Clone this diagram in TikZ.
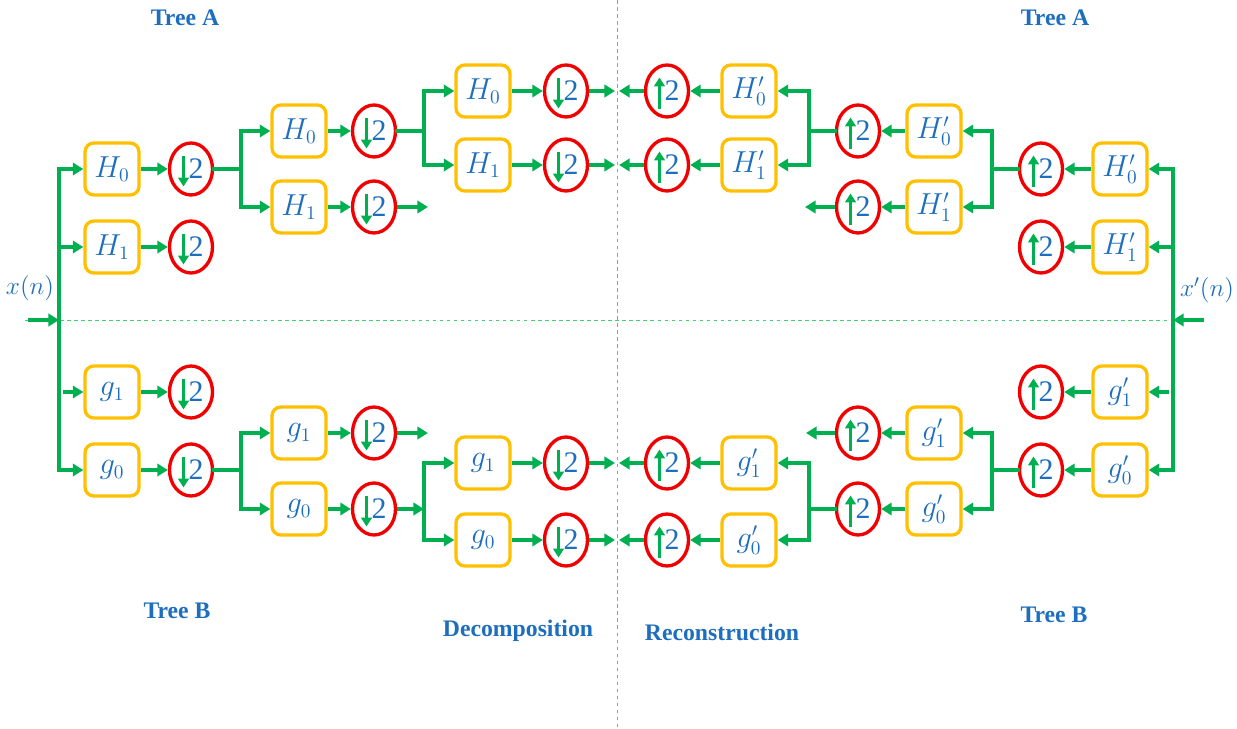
\documentclass[tikz,border=0pt]{standalone}
\usepackage{fontspec}
\setmainfont{Liberation Serif}
\usetikzlibrary{arrows.meta,shapes.geometric,calc}
\definecolor{wiregreen}{RGB}{0,176,80}
\definecolor{guidegreen}{RGB}{70,205,120}
\definecolor{ringred}{RGB}{240,0,0}
\definecolor{boxorange}{RGB}{255,192,0}
\definecolor{txtblue}{RGB}{30,110,190}

% sampler with a down arrow (decimation)
\newcommand\downsamp[3]{%
  \node[samp] (#1) at (#2,#3) {\makebox[0.5cm][r]{2}};
  \draw[tick] ([xshift=-0.15cm,yshift=0.26cm]#1.center) -- ([xshift=-0.15cm,yshift=-0.35cm]#1.center);}
% sampler with an up arrow (interpolation)
\newcommand\upsamp[3]{%
  \node[samp] (#1) at (#2,#3) {\makebox[0.5cm][r]{2}};
  \draw[tick] ([xshift=-0.15cm,yshift=-0.37cm]#1.center) -- ([xshift=-0.15cm,yshift=0.27cm]#1.center);}

\begin{document}
\begin{tikzpicture}[x=0.02cm,y=-0.02cm,
  filt/.style={draw=boxorange, line width=1.9pt, rounded corners=5pt,
    minimum width=1.08cm, minimum height=1.04cm, fill=white, text=txtblue,
    font=\fontsize{16}{18}\selectfont, inner sep=0pt},
  samp/.style={ellipse, draw=ringred, line width=1.9pt, minimum width=0.86cm,
    minimum height=1.04cm, inner sep=0pt, text=txtblue,
    font=\fontsize{17}{19}\selectfont},
  wire/.style={draw=wiregreen, line width=2pt, line cap=rect},
  flow/.style={draw=wiregreen, line width=2pt, -{Triangle[length=6pt,width=7pt]}},
  tick/.style={draw=wiregreen, line width=1.9pt, -{Triangle[length=5pt,width=6pt]}},
  guide/.style={draw=guidegreen, line width=0.45pt, dash pattern=on 2pt off 2pt},
  title/.style={text=txtblue, font=\bfseries\fontsize{13.5}{15}\selectfont},
  sig/.style={text=txtblue, font=\fontsize{14.5}{16}\selectfont},
]
\useasboundingbox (0,0) rectangle (1237,729);

% dashed guide lines
\coordinate (gh1) at (25,320);
\coordinate (gh2) at (1170,320);
\coordinate (gv1) at (617,0);
\coordinate (gv2) at (617,729);
\draw[guide] (gh1) -- (gh2);
\draw[guide] (gv1) -- (gv2);

% titles
\node[title] (tAl) at (185,18) {Tree A};
\node[title] (tAr) at (1055,18) {Tree A};
\node[title] (tBl) at (177,611) {Tree B};
\node[title] (tBr) at (1054,615) {Tree B};
\node[title] (dec) at (518,631) {Decomposition};
\node[title] (rec) at (722,632) {Reconstruction};

% input / output signals
\node[sig] (xin) at (30,288) {$x(n)$};
\node[sig] (xout) at (1207,290) {$x'(n)$};
\coordinate (inL) at (28,320);
\coordinate (busL) at (59,320);
\coordinate (inR) at (1204,320);
\coordinate (busR) at (1173,320);

% ---------- decomposition, tree A ----------
\node[filt] (a1h0) at (112,169) {$H_0$};
\node[filt] (a1h1) at (112,247) {$H_1$};
\downsamp{a1d0}{191}{169}
\downsamp{a1d1}{191}{247}
\node[filt] (a2h0) at (299,131) {$H_0$};
\node[filt] (a2h1) at (299,207) {$H_1$};
\downsamp{a2d0}{374}{131}
\downsamp{a2d1}{374}{207}
\node[filt] (a3h0) at (483,91) {$H_0$};
\node[filt] (a3h1) at (483,165) {$H_1$};
\downsamp{a3d0}{566}{91}
\downsamp{a3d1}{566}{165}

% ---------- decomposition, tree B ----------
\node[filt] (b1g1) at (112,392) {$g_1$};
\node[filt] (b1g0) at (112,470) {$g_0$};
\downsamp{b1d1}{191}{392}
\downsamp{b1d0}{191}{470}
\node[filt] (b2g1) at (299,433) {$g_1$};
\node[filt] (b2g0) at (299,509) {$g_0$};
\downsamp{b2d1}{374}{433}
\downsamp{b2d0}{374}{509}
\node[filt] (b3g1) at (483,463) {$g_1$};
\node[filt] (b3g0) at (483,540) {$g_0$};
\downsamp{b3d1}{566}{463}
\downsamp{b3d0}{566}{540}

% ---------- reconstruction, tree A ----------
\upsamp{p3u0}{667}{91}
\upsamp{p3u1}{667}{165}
\node[filt] (p3h0) at (749,91) {$H'_0$};
\node[filt] (p3h1) at (749,165) {$H'_1$};
\upsamp{p2u0}{858}{131}
\upsamp{p2u1}{858}{207}
\node[filt] (p2h0) at (934,131) {$H'_0$};
\node[filt] (p2h1) at (934,207) {$H'_1$};
\upsamp{p1u0}{1041}{169}
\upsamp{p1u1}{1041}{247}
\node[filt] (p1h0) at (1120,169) {$H'_0$};
\node[filt] (p1h1) at (1120,247) {$H'_1$};

% ---------- reconstruction, tree B ----------
\upsamp{q3u1}{667}{463}
\upsamp{q3u0}{667}{540}
\node[filt] (q3g1) at (749,463) {$g'_1$};
\node[filt] (q3g0) at (749,540) {$g'_0$};
\upsamp{q2u1}{858}{433}
\upsamp{q2u0}{858}{509}
\node[filt] (q2g1) at (934,433) {$g'_1$};
\node[filt] (q2g0) at (934,509) {$g'_0$};
\upsamp{q1u1}{1041}{392}
\upsamp{q1u0}{1041}{470}
\node[filt] (q1g1) at (1120,392) {$g'_1$};
\node[filt] (q1g0) at (1120,470) {$g'_0$};

% bus junctions
\coordinate (aBus2) at (241,169);
\coordinate (aBus3) at (424,131);
\coordinate (bBus2) at (241,470);
\coordinate (bBus3) at (424,509);
\coordinate (pBus3) at (809,131);
\coordinate (pBus2) at (992,169);
\coordinate (qBus3) at (809,509);
\coordinate (qBus2) at (992,470);

% open branch ends
\coordinate (a2end) at (428,207);
\coordinate (b2end) at (428,433);
\coordinate (p2end) at (805,207);
\coordinate (q2end) at (806,433);

% ends at the centre line
\coordinate (la0) at (615,91);
\coordinate (la1) at (615,165);
\coordinate (lb1) at (615,463);
\coordinate (lb0) at (615,540);
\coordinate (ra0) at (619,91);
\coordinate (ra1) at (619,165);
\coordinate (rb1) at (619,463);
\coordinate (rb0) at (619,540);

% ---------- left wiring ----------
\draw[flow] (inL) -- (busL);
\draw[wire] (a1h0.west -| busL) -- (b1g0.west -| busL);
\draw[flow] (a1h0.west -| busL) -- (a1h0.west);
\draw[flow] (a1h1.west -| busL) -- (a1h1.west);
\draw[flow] ($(b1g1.west -| busL)+(4,0)$) -- (b1g1.west);
\draw[flow] (b1g0.west -| busL) -- (b1g0.west);
\foreach \f/\s in {a1h0/a1d0,a1h1/a1d1,a2h0/a2d0,a2h1/a2d1,a3h0/a3d0,a3h1/a3d1,
                  b1g1/b1d1,b1g0/b1d0,b2g1/b2d1,b2g0/b2d0,b3g1/b3d1,b3g0/b3d0}
  \draw[flow] (\f) -- (\s);

% tree A, levels 2 and 3
\draw[wire] (a1d0.east) -- (aBus2);
\draw[wire] (a2h0.west -| aBus2) -- (a2h1.west -| aBus2);
\draw[flow] (a2h0.west -| aBus2) -- (a2h0.west);
\draw[flow] (a2h1.west -| aBus2) -- (a2h1.west);
\draw[flow] (a2d1.east) -- (a2end);
\draw[wire] (a2d0.east) -- (aBus3);
\draw[wire] (a3h0.west -| aBus3) -- (a3h1.west -| aBus3);
\draw[flow] (a3h0.west -| aBus3) -- (a3h0.west);
\draw[flow] (a3h1.west -| aBus3) -- (a3h1.west);
\draw[flow] (a3d0.east) -- (la0);
\draw[flow] (a3d1.east) -- (la1);

% tree B, levels 2 and 3
\draw[wire] (b1d0.east) -- (bBus2);
\draw[wire] (b2g1.west -| bBus2) -- (b2g0.west -| bBus2);
\draw[flow] (b2g1.west -| bBus2) -- (b2g1.west);
\draw[flow] (b2g0.west -| bBus2) -- (b2g0.west);
\draw[flow] (b2d1.east) -- (b2end);
\draw[flow] (b2d0.east) -- (bBus3);
\draw[wire] (b3g1.west -| bBus3) -- (b3g0.west -| bBus3);
\draw[flow] (b3g1.west -| bBus3) -- (b3g1.west);
\draw[flow] (b3g0.west -| bBus3) -- (b3g0.west);
\draw[flow] (b3d1.east) -- (lb1);
\draw[flow] (b3d0.east) -- (lb0);

% ---------- right wiring ----------
\draw[flow] (inR) -- (busR);
\draw[wire] (p1h0.east -| busR) -- (q1g0.east -| busR);
\draw[flow] (p1h0.east -| busR) -- (p1h0.east);
\draw[flow] (p1h1.east -| busR) -- (p1h1.east);
\draw[flow] ($(q1g1.east -| busR)+(-4,0)$) -- (q1g1.east);
\draw[flow] (q1g0.east -| busR) -- (q1g0.east);
\foreach \f/\s in {p1h0/p1u0,p1h1/p1u1,p2h0/p2u0,p2h1/p2u1,p3h0/p3u0,p3h1/p3u1,
                  q1g1/q1u1,q1g0/q1u0,q2g1/q2u1,q2g0/q2u0,q3g1/q3u1,q3g0/q3u0}
  \draw[flow] (\f) -- (\s);

% tree A, levels 2 and 3
\draw[wire] (p1u0.west) -- (pBus2);
\draw[wire] (p2h0.east -| pBus2) -- (p2h1.east -| pBus2);
\draw[flow] (p2h0.east -| pBus2) -- (p2h0.east);
\draw[flow] (p2h1.east -| pBus2) -- (p2h1.east);
\draw[flow] (p2u1.west) -- (p2end);
\draw[wire] (p2u0.west) -- (pBus3);
\draw[wire] (p3h0.east -| pBus3) -- (p3h1.east -| pBus3);
\draw[flow] (p3h0.east -| pBus3) -- (p3h0.east);
\draw[flow] (p3h1.east -| pBus3) -- (p3h1.east);
\draw[flow] (p3u0.west) -- (ra0);
\draw[flow] (p3u1.west) -- (ra1);

% tree B, levels 2 and 3
\draw[wire] (q1u0.west) -- (qBus2);
\draw[wire] (q2g1.east -| qBus2) -- (q2g0.east -| qBus2);
\draw[flow] (q2g1.east -| qBus2) -- (q2g1.east);
\draw[flow] (q2g0.east -| qBus2) -- (q2g0.east);
\draw[flow] (q2u1.west) -- (q2end);
\draw[wire] (q2u0.west) -- (qBus3);
\draw[wire] (q3g1.east -| qBus3) -- (q3g0.east -| qBus3);
\draw[flow] (q3g1.east -| qBus3) -- (q3g1.east);
\draw[flow] (q3g0.east -| qBus3) -- (q3g0.east);
\draw[flow] (q3u1.west) -- (rb1);
\draw[flow] (q3u0.west) -- (rb0);
\end{tikzpicture}
\end{document}
